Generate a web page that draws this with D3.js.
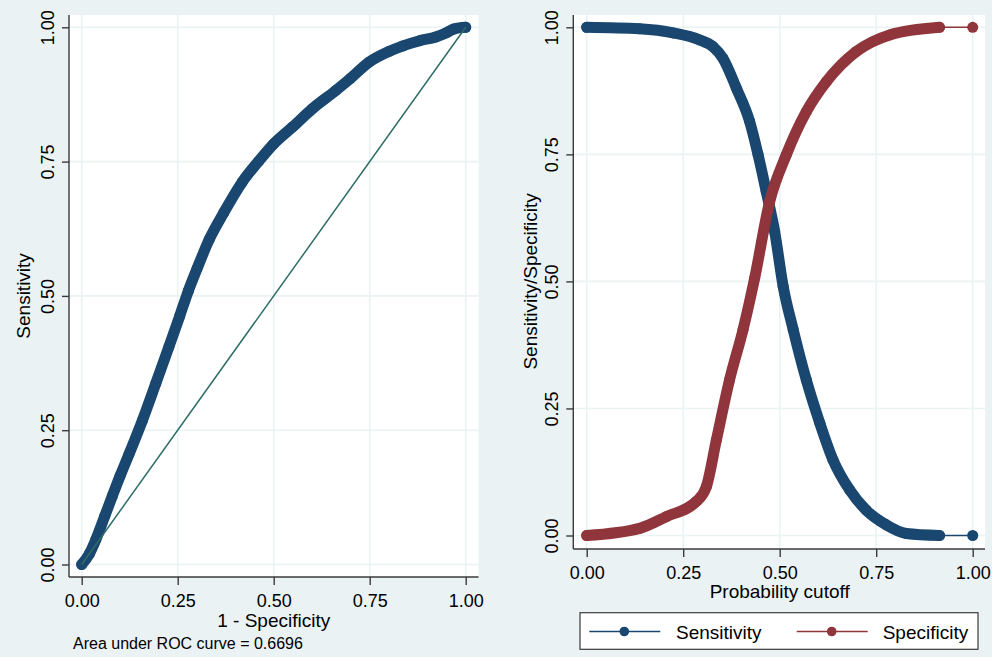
<!DOCTYPE html>
<html>
<head>
<meta charset="utf-8">
<script src="https://cdn.jsdelivr.net/npm/d3@7"></script>
<style>
  body { margin: 0; background: #eaf2f3; }
  svg { display: block; font-family: "Liberation Sans", Arial, sans-serif; }
</style>
</head>
<body>
<div class="container"></div>
<script>
  // ROC curve (1 - specificity, sensitivity)
  var rocFpr = [0, 0.02, 0.036, 0.06, 0.08, 0.10, 0.123, 0.158, 0.193, 0.227, 0.255, 0.278, 0.30, 0.332, 0.37,
                0.418, 0.46, 0.50, 0.55, 0.60, 0.661, 0.70, 0.748, 0.80, 0.835, 0.88, 0.922, 0.95, 0.97, 1.0];
  var rocTpr = [0, 0.02, 0.045, 0.09, 0.128, 0.165, 0.205, 0.268, 0.337, 0.405, 0.462, 0.51, 0.55, 0.605, 0.655,
                0.712, 0.75, 0.783, 0.815, 0.848, 0.882, 0.905, 0.935, 0.955, 0.965, 0.975, 0.982, 0.99, 0.997, 1.0];
  var auc = "0.6696";

  // Sensitivity / specificity against probability cutoff
  var sensCut = [0, 0.137, 0.224, 0.293, 0.327, 0.353, 0.388, 0.422, 0.444, 0.465, 0.487, 0.509, 0.535, 0.569,
                 0.604, 0.638, 0.681, 0.724, 0.776, 0.828, 0.914, 1.0];
  var sensVal = [1.0, 0.997, 0.989, 0.975, 0.962, 0.939, 0.880, 0.815, 0.749, 0.677, 0.598, 0.49, 0.405, 0.306,
                 0.221, 0.149, 0.090, 0.050, 0.021, 0.004, 0, 0];
  var specCut = [0, 0.137, 0.206, 0.284, 0.31, 0.336, 0.370, 0.405, 0.435, 0.474, 0.517, 0.569, 0.621, 0.698,
                 0.785, 0.914, 1.0];
  var specVal = [0, 0.014, 0.037, 0.067, 0.096, 0.188, 0.306, 0.405, 0.506, 0.657, 0.749, 0.834, 0.893, 0.952,
                 0.985, 1.0, 1.0];

  var ticks = [0, 0.25, 0.5, 0.75, 1];

  var navy = "#1a476f", maroon = "#90353b", green = "#2d6d66", bg = "#eaf2f3";
  var w = 992, h = 657;
  var svg = d3.select(".container").append("svg").attr("width", w).attr("height", h);
  svg.append("rect").attr("width", w).attr("height", h).attr("fill", bg);

  function zip(a, b) { return a.map(function(v, i) { return [v, b[i]]; }); }

  // draws one panel: white plot region, grid, axes, ticks, titles
  function panel(box, xr, yr, xTitle, yTitle, xTitleY, yTitleX) {
    var x = d3.scaleLinear().domain([0, 1]).range(xr);
    var y = d3.scaleLinear().domain([0, 1]).range(yr);
    var g = svg.append("g");
    g.append("rect").attr("x", box[0]).attr("y", box[1]).attr("width", box[2] - box[0]).attr("height", box[3] - box[1]).attr("fill", "#fff");

    g.selectAll(".gx").data(ticks).enter().append("line")
      .attr("x1", function(d) { return x(d); }).attr("x2", function(d) { return x(d); })
      .attr("y1", box[1]).attr("y2", box[3]).attr("stroke", bg).attr("stroke-width", 1.6);
    g.selectAll(".gy").data(ticks).enter().append("line")
      .attr("y1", function(d) { return y(d); }).attr("y2", function(d) { return y(d); })
      .attr("x1", box[0]).attr("x2", box[2]).attr("stroke", bg).attr("stroke-width", 1.6);

    var xAxis = g.append("g").attr("transform", "translate(0," + box[3] + ")")
      .call(d3.axisBottom(x).tickValues(ticks).tickFormat(d3.format(".2f")).tickSizeInner(8).tickSizeOuter(0));
    xAxis.select(".domain").attr("d", "M" + box[0] + ",0H" + box[2]);
    xAxis.selectAll("text").attr("font-size", 18).attr("fill", "#000").attr("dy", null).attr("y", 30);

    var yAxis = g.append("g").attr("transform", "translate(" + box[0] + ",0)")
      .call(d3.axisLeft(y).tickValues(ticks).tickFormat(d3.format(".2f")).tickSizeInner(7).tickSizeOuter(0));
    yAxis.select(".domain").attr("d", "M0," + box[1] + "V" + box[3]);
    yAxis.selectAll("text").attr("font-size", 18).attr("fill", "#000").attr("text-anchor", "middle")
      .attr("dy", null).attr("x", null)
      .attr("transform", "translate(-15.5,0) rotate(-90)");
    g.selectAll(".domain, .tick line").attr("stroke", "#3a3a3a").attr("stroke-width", 1.4);

    g.append("text").attr("x", (xr[0] + xr[1]) / 2).attr("y", xTitleY).attr("text-anchor", "middle")
      .attr("font-size", 19).text(xTitle);
    g.append("text").attr("transform", "translate(" + yTitleX + "," + (yr[0] + yr[1]) / 2 + ") rotate(-90)")
      .attr("text-anchor", "middle").attr("font-size", 19).text(yTitle);
    return { x: x, y: y, g: g };
  }

  // dense markers drawn as a thick band plus a thin connecting line
  function series(p, pts, color, dense) {
    var line = d3.line().x(function(d) { return p.x(d[0]); }).y(function(d) { return p.y(d[1]); }).curve(d3.curveMonotoneX);
    p.g.append("path").attr("d", line(pts)).attr("fill", "none").attr("stroke", color).attr("stroke-width", 1.5);
    p.g.append("path").attr("d", line(pts.slice(0, dense))).attr("fill", "none").attr("stroke", color)
      .attr("stroke-width", 11).attr("stroke-linecap", "round").attr("stroke-linejoin", "round");
    p.g.selectAll(null).data(pts).enter().append("circle")
      .attr("cx", function(d) { return p.x(d[0]); }).attr("cy", function(d) { return p.y(d[1]); })
      .attr("r", 5.5).attr("fill", color);
  }

  // left: ROC
  var left = panel([69, 15, 478.5, 577], [81.7, 465.7], [564.5, 27.3], "1 - Specificity", "Sensitivity", 627, 30);
  var roc = zip(rocFpr, rocTpr);
  series(left, roc, navy, roc.length);
  left.g.append("line").attr("x1", left.x(0)).attr("y1", left.y(0)).attr("x2", left.x(1)).attr("y2", left.y(1))
    .attr("stroke", green).attr("stroke-width", 1.5);
  svg.append("text").attr("x", 73).attr("y", 649).attr("font-size", 16).text("Area under ROC curve = " + auc);

  // right: sensitivity / specificity
  var right = panel([573.3, 15, 985, 549], [586.7, 972.7], [535.5, 27.3], "Probability cutoff", "Sensitivity/Specificity", 598, 536.5);
  series(right, zip(sensCut, sensVal), navy, sensCut.length - 1);
  series(right, zip(specCut, specVal), maroon, specCut.length - 1);

  // legend
  var lg = svg.append("g");
  lg.append("rect").attr("x", 580).attr("y", 612.7).attr("width", 398).attr("height", 36.6)
    .attr("fill", "#fff").attr("stroke", "#3a3a3a").attr("stroke-width", 1.2);
  [["Sensitivity", navy, 589.3, 676], ["Specificity", maroon, 796.7, 882.7]].forEach(function(k) {
    lg.append("line").attr("x1", k[2]).attr("x2", k[2] + 71).attr("y1", 631.5).attr("y2", 631.5)
      .attr("stroke", k[1]).attr("stroke-width", 1.5);
    lg.append("circle").attr("cx", k[2] + 35).attr("cy", 631.5).attr("r", 4.8).attr("fill", k[1]);
    lg.append("text").attr("x", k[3]).attr("y", 638.5).attr("font-size", 19).text(k[0]);
  });
</script>
</body>
</html>
